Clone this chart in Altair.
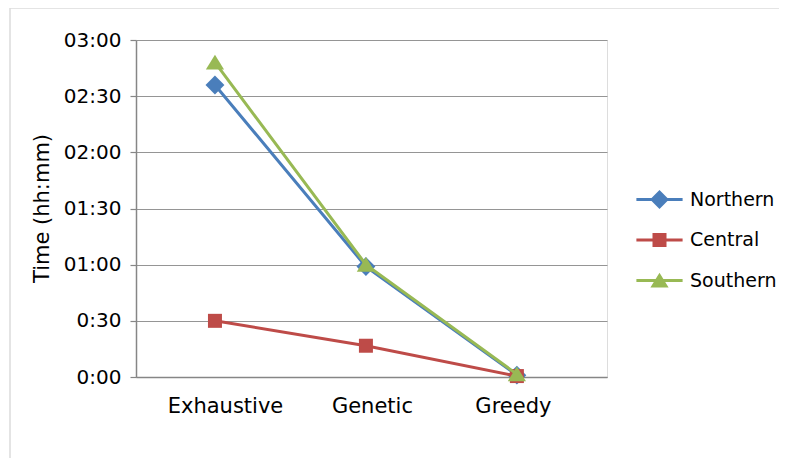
import altair as alt
import pandas as pd

methods = ["Exhaustive", "Genetic", "Greedy"]
series = ["Northern", "Central", "Southern"]
northern = [156, 59, 1]
central = [30, 16.7, 0.5]
southern = [168, 60, 1.5]
colors = ["#4A7EBB", "#BE4B48", "#98B954"]
y_ticks = [0, 30, 60, 90, 120, 150, 180]

rows = []
for s, vals in zip(series, [northern, central, southern]):
    for m, v in zip(methods, vals):
        rows.append({"method": m, "series": s, "minutes": v})
df = pd.DataFrame(rows)

marker_paths = [
    "M0,-1.35L1.35,0L0,1.35L-1.35,0Z",
    "M-1,-1L1,-1L1,1L-1,1Z",
    "M0,-1.1L1.3,1L-1.3,1Z",
]
line_seg = "M-3.3,-0.22L3.3,-0.22L3.3,0.22L-3.3,0.22Z "
legend_paths = [line_seg + p for p in marker_paths]

FONT = "DejaVu Sans"

x_enc = alt.X(
    "method:N",
    sort=methods,
    scale=alt.Scale(type="point", domain=methods, padding=0.56, align=0.467),
    axis=alt.Axis(title=None, labelAngle=0, ticks=False, labelFontSize=21,
                  labelColor="black", labelPadding=18, domainColor="#868686",
                  domainWidth=1.5, grid=False, labelFont=FONT,
                  labelOffset=alt.ExprRef("datum.value == 'Exhaustive' ? 10 : (datum.value == 'Genetic' ? 6 : -4)")),
)
y_enc = alt.Y(
    "minutes:Q",
    scale=alt.Scale(domain=[0, 180], nice=False),
    axis=alt.Axis(
        values=y_ticks,
        labelExpr="(datum.value < 60 ? '0' : (datum.value < 600 ? '0' : '') + floor(datum.value / 60)) + ':' + (datum.value % 60 < 10 ? '0' : '') + (datum.value % 60)",
        grid=True, gridColor="#959595", gridWidth=1.2,
        domainColor="#868686", domainWidth=1.5,
        tickColor="#868686", tickSize=6, tickWidth=1.2,
        labelFontSize=20, labelColor="black", labelPadding=9, labelFont=FONT,
        title="Time (hh:mm)", titleFontSize=21, titleFontWeight="normal",
        titleColor="black", titleFont=FONT,
        titleX=-94, titleY=168, titleAngle=-90, titleAlign="center",
        titleBaseline="middle",
    ),
)

leg_kwargs = dict(
    title=None, orient="none", legendX=514, legendY=150,
    labelFontSize=19, labelColor="black", labelFont=FONT,
    labelOffset=21, rowPadding=20.5, symbolSize=196, symbolOpacity=1,
    symbolStrokeWidth=0, padding=0,
)

series_layers = []
for s, c, p in zip(series, colors, marker_paths):
    base = alt.Chart(df).transform_filter(alt.datum.series == s)
    series_layers.append(
        base.mark_line(strokeWidth=3, color=c).encode(x=x_enc, y=y_enc)
    )
    series_layers.append(
        base.mark_point(filled=True, opacity=1, size=196, strokeWidth=0, shape=p, color=c)
        .encode(x=x_enc, y=y_enc)
    )

legend_layer = alt.Chart(df).transform_filter("false").mark_point(
    filled=True, size=196, strokeWidth=0
).encode(
    x=x_enc, y=y_enc,
    color=alt.Color("series:N", scale=alt.Scale(domain=series, range=colors),
                    legend=alt.Legend(**leg_kwargs)),
    shape=alt.Shape("series:N", scale=alt.Scale(domain=series, range=legend_paths),
                    legend=alt.Legend(**leg_kwargs)),
)

frame = alt.Chart(pd.DataFrame({"a": [0]})).mark_rect(
    filled=False, stroke="#dcdcdc", strokeWidth=1.5
).encode(
    x=alt.value(-126), x2=alt.value(700), y=alt.value(-32), y2=alt.value(480)
)

chart = alt.layer(frame, *series_layers, legend_layer).properties(
    width=471, height=337,
    autosize=alt.AutoSizeParams(type="none"),
    padding={"left": 128, "top": 32, "right": 172, "bottom": 81},
).configure_view(stroke=None).configure(font=FONT)

chart.save("out.html", embed_options={"renderer": "svg", "actions": False})
